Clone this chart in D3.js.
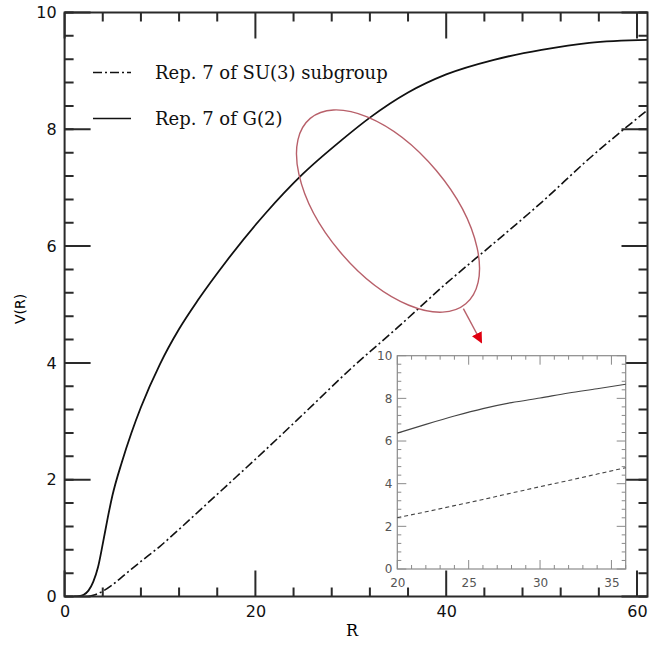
<!DOCTYPE html>
<html lang="en">
<head>
<meta charset="UTF-8">
<title>V(R) G(2) vs SU(3)</title>
<script src="https://cdn.jsdelivr.net/npm/d3@7"></script>
<style>
  body { margin: 0; background: #fff; }
  svg { display: block; }
</style>
</head>
<body>
<svg></svg>
<script>
// main plot data
var rG2   = [1, 1.5, 2, 2.5, 3, 3.5, 4, 4.5, 5, 6, 7, 8, 10, 12, 14, 17, 21, 25, 29, 32, 36, 40, 45, 50, 55, 61.1];
var vG2   = [0, 0.005, 0.03, 0.1, 0.25, 0.5, 0.9, 1.33, 1.72, 2.3, 2.8, 3.24, 3.98, 4.58, 5.08, 5.75, 6.55, 7.24, 7.81, 8.2, 8.63, 8.94, 9.19, 9.36, 9.48, 9.53];
var rSU3  = [2.5, 3, 4, 5, 6.5, 8, 10, 12, 14, 17, 20, 25, 30, 35, 40, 45, 50, 55, 61.1];
var vSU3  = [0, 0.02, 0.09, 0.2, 0.4, 0.6, 0.86, 1.15, 1.45, 1.9, 2.35, 3.12, 3.9, 4.62, 5.36, 6.05, 6.75, 7.5, 8.33];

// inset (zoom on 20 < R < 36)
var rInset    = [20, 22, 24, 26, 28, 30, 32, 34, 36];
var vInsetG2  = [6.37, 6.78, 7.17, 7.52, 7.8, 8.02, 8.25, 8.45, 8.66];
var vInsetSU3 = [2.41, 2.68, 2.97, 3.26, 3.56, 3.86, 4.15, 4.45, 4.75];

var legendLabels = ['Rep. 7 of SU(3) subgroup', 'Rep. 7 of G(2)'];

var xMajor = [0, 20, 40, 60];
var yMajor = [0, 2, 4, 6, 8, 10];
var insetXMajor = [20, 25, 30, 35];
var insetYMajor = [0, 2, 4, 6, 8, 10];

var W = 649, H = 645;
var svg = d3.select('svg').attr('width', W).attr('height', H);

var x = d3.scaleLinear().domain([0, 61.1]).range([64.6, 647.5]);
var y = d3.scaleLinear().domain([0, 10]).range([596.5, 12.5]);

function zip(a, b) { return a.map(function (d, i) { return [d, b[i]]; }); }
function steps(a, b, s) { var out = []; for (var v = a; v <= b + 1e-9; v += s) out.push(+v.toFixed(4)); return out; }

// inward ticks on all four sides of a frame, as one path
function frameTicks(g, sx, sy, xs, ys, len, color, width) {
  var x0 = sx.range()[0], x1 = sx.range()[1], y0 = sy.range()[0], y1 = sy.range()[1];
  var p = d3.path();
  xs.forEach(function (v) {
    p.moveTo(sx(v), y0); p.lineTo(sx(v), y0 - len);
    p.moveTo(sx(v), y1); p.lineTo(sx(v), y1 + len);
  });
  ys.forEach(function (v) {
    p.moveTo(x0, sy(v)); p.lineTo(x0 + len, sy(v));
    p.moveTo(x1, sy(v)); p.lineTo(x1 - len, sy(v));
  });
  g.append('path').attr('d', p.toString())
    .attr('fill', 'none').attr('stroke', color).attr('stroke-width', width);
}

var axisColor = '#2a2a2a';
var pB = y.range()[0], pT = y.range()[1], pL = x.range()[0], pR = x.range()[1];

svg.append('defs').append('clipPath').attr('id', 'clipMain')
  .append('rect')
  .attr('x', pL).attr('y', pT)
  .attr('width', pR - pL).attr('height', pB - pT);

// tick labels through d3 axes (tick lines drawn separately)
var xl = svg.append('g').attr('transform', 'translate(0,' + pB + ')')
  .call(d3.axisBottom(x).tickValues(xMajor).tickSize(0).tickPadding(9));
var yl = svg.append('g').attr('transform', 'translate(' + pL + ',0)')
  .call(d3.axisLeft(y).tickValues(yMajor).tickSize(0).tickPadding(8));
[xl, yl].forEach(function (g) {
  g.select('.domain').remove();
  g.selectAll('text').attr('font-family', 'DejaVu Sans').attr('font-size', 16).attr('fill', '#111');
});

// axis titles
svg.append('text')
  .attr('x', (pL + pR) / 2 - 4).attr('y', 636)
  .attr('text-anchor', 'middle')
  .attr('font-family', 'DejaVu Serif').attr('font-size', 16)
  .text('R');
svg.append('text')
  .attr('transform', 'translate(25,309) rotate(-90)')
  .attr('text-anchor', 'middle')
  .attr('font-family', 'DejaVu Sans').attr('font-size', 14)
  .text('V(R)');

// curves
var line = d3.line()
  .x(function (d) { return x(d[0]); })
  .y(function (d) { return y(d[1]); })
  .curve(d3.curveMonotoneX);

var plot = svg.append('g').attr('clip-path', 'url(#clipMain)');
plot.append('path')
  .datum(zip(rG2, vG2))
  .attr('fill', 'none').attr('stroke', '#111').attr('stroke-width', 1.8)
  .attr('d', line);
plot.append('path')
  .datum(zip(rSU3, vSU3))
  .attr('fill', 'none').attr('stroke', '#111').attr('stroke-width', 1.6)
  .attr('stroke-dasharray', '9,3,2,3')
  .attr('d', line);

// legend
var legend = svg.append('g');
[0, 1].forEach(function (i) {
  var ly = 72.5 + i * 46;
  legend.append('line')
    .attr('x1', 93).attr('x2', 131).attr('y1', ly).attr('y2', ly)
    .attr('stroke', '#111').attr('stroke-width', 1.6)
    .attr('stroke-dasharray', i === 0 ? '9,3,2,3' : null);
  legend.append('text')
    .attr('x', 155).attr('y', ly + 6)
    .attr('font-family', 'DejaVu Serif').attr('font-size', 18)
    .attr('fill', '#111')
    .text(legendLabels[i]);
});

// ellipse marking the zoomed region and the arrow
var ann = '#b8606a';
var ec = [33.9, 6.6];
svg.append('ellipse')
  .attr('cx', 0).attr('cy', 0).attr('rx', 121).attr('ry', 63)
  .attr('transform', 'translate(' + x(ec[0]) + ',' + y(ec[1]) + ') rotate(50)')
  .attr('fill', 'none').attr('stroke', ann).attr('stroke-width', 1.4);

svg.select('defs').append('marker')
  .attr('id', 'head').attr('viewBox', '0 0 10 10')
  .attr('refX', 9).attr('refY', 5)
  .attr('markerWidth', 11).attr('markerHeight', 11)
  .attr('markerUnits', 'userSpaceOnUse')
  .attr('orient', 'auto')
  .append('path').attr('d', 'M0,0 L10,5 L0,10 z').attr('fill', '#e00010');

svg.append('line')
  .attr('x1', x(41.8)).attr('y1', y(4.93))
  .attr('x2', x(43.7)).attr('y2', y(4.35))
  .attr('stroke', ann).attr('stroke-width', 1.4)
  .attr('marker-end', 'url(#head)');

// main frame and ticks
svg.append('rect')
  .attr('x', pL).attr('y', pT)
  .attr('width', pR - pL).attr('height', pB - pT)
  .style('fill', 'none').attr('stroke', axisColor).attr('stroke-width', 2);

var mainTicks = svg.append('g');
frameTicks(mainTicks, x, y, steps(0, 60, 4).filter(function (v) { return v % 20; }),
  steps(0, 10, 0.4), 9, axisColor, 2);
frameTicks(mainTicks, x, y, xMajor, yMajor, 26, axisColor, 2);

// inset
var ix = d3.scaleLinear().domain([20, 36]).range([397.3, 625.7]);
var iy = d3.scaleLinear().domain([0, 10]).range([569, 355.7]);
var inset = svg.append('g');
var iColor = '#8a8a8a';
var ib = iy.range()[0], iTop = iy.range()[1], il = ix.range()[0], ir = ix.range()[1];

inset.append('rect')
  .attr('x', il).attr('y', iTop)
  .attr('width', ir - il).attr('height', ib - iTop)
  .attr('fill', '#fff');

frameTicks(inset, ix, iy, steps(20, 36, 1).filter(function (v) { return v % 5; }),
  steps(0, 10, 0.4).filter(function (v) { return Math.abs(v / 2 - Math.round(v / 2)) > 1e-6; }), 4, iColor, 1);
frameTicks(inset, ix, iy, insetXMajor, insetYMajor, 9, iColor, 1);

inset.append('rect')
  .attr('x', il).attr('y', iTop)
  .attr('width', ir - il).attr('height', ib - iTop)
  .style('fill', 'none').attr('stroke', iColor).attr('stroke-width', 1.2);

var ixl = inset.append('g').attr('transform', 'translate(0,' + ib + ')')
  .call(d3.axisBottom(ix).tickValues(insetXMajor).tickSize(0).tickPadding(9));
var iyl = inset.append('g').attr('transform', 'translate(' + il + ',0)')
  .call(d3.axisLeft(iy).tickValues(insetYMajor).tickSize(0).tickPadding(5));
[ixl, iyl].forEach(function (g) {
  g.select('.domain').remove();
  g.selectAll('text').attr('font-family', 'DejaVu Sans').attr('font-size', 12).attr('fill', '#555');
});

var iline = d3.line()
  .x(function (d) { return ix(d[0]); })
  .y(function (d) { return iy(d[1]); })
  .curve(d3.curveMonotoneX);
inset.append('path')
  .datum(zip(rInset, vInsetG2))
  .attr('fill', 'none').attr('stroke', '#444').attr('stroke-width', 1.1)
  .attr('d', iline);
inset.append('path')
  .datum(zip(rInset, vInsetSU3))
  .attr('fill', 'none').attr('stroke', '#444').attr('stroke-width', 1.1)
  .attr('stroke-dasharray', '4,3')
  .attr('d', iline);
</script>
</body>
</html>
